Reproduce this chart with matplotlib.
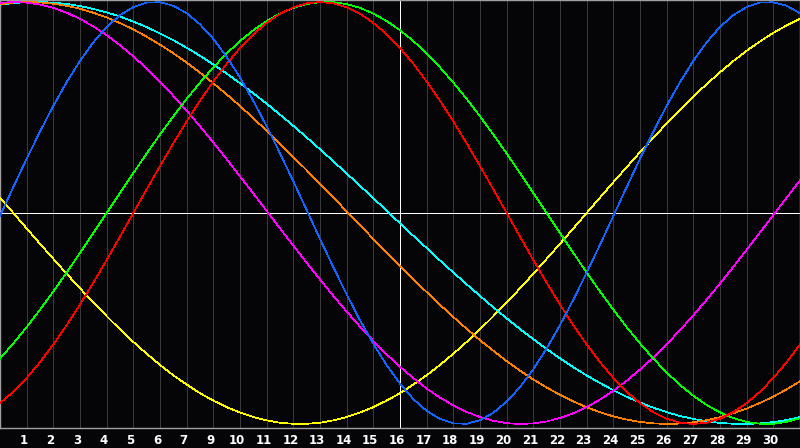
import numpy as np
import matplotlib
matplotlib.use("Agg")
import matplotlib.pyplot as plt
from matplotlib.transforms import ScaledTranslation

# day positions sampled every half day across the 30-day window
days = np.arange(0, 61) * 0.5

# tick positions and their date labels (note: 8 is absent in the original)
tick_pos = list(range(1, 30))
tick_labels = ["1", "2", "3", "4", "5", "6", "7", "9", "10", "11", "12", "13", "14",
               "15", "16", "17", "18", "19", "20", "21", "22", "23", "24", "25",
               "26", "27", "28", "29", "30"]

# cycle values (x1000)
blue = [-14, 123, 257, 386, 508, 620, 721, 809, 882, 938, 976, 997, 999, 982, 947, 894,
        825, 740, 642, 531, 411, 283, 150, 14, -123, -257, -386, -508, -620, -721, -809, -882,
        -938, -976, -997, -999, -982, -947, -894, -825, -740, -642, -531, -411, -283, -150, -14, 123,
        257, 386, 508, 620, 721, 809, 882, 938, 976, 997, 999, 982, 947]
red = [-901, -847, -782, -707, -623, -532, -434, -330, -223, -112, 0, 112, 223, 330, 434, 532,
       623, 707, 782, 847, 901, 944, 975, 994, 1000, 994, 975, 944, 901, 847, 782, 707,
       623, 532, 434, 330, 223, 112, 0, -112, -223, -330, -434, -532, -623, -707, -782, -847,
       -901, -944, -975, -994, -1000, -994, -975, -944, -901, -847, -782, -707, -623]
green = [-690, -618, -541, -458, -372, -282, -189, -95, 0, 95, 189, 282, 372, 458, 541, 618,
         690, 756, 815, 866, 910, 945, 972, 990, 999, 999, 990, 972, 945, 910, 866, 815,
         756, 690, 618, 541, 458, 372, 282, 189, 95, 0, -95, -189, -282, -372, -458, -541,
         -618, -690, -756, -815, -866, -910, -945, -972, -990, -999, -999, -990, -972]
yellow = [73, 0, -73, -146, -217, -288, -357, -424, -489, -552, -611, -667, -720, -769, -813, -854,
          -889, -920, -946, -967, -983, -994, -999, -999, -994, -983, -967, -946, -920, -889, -854, -813,
          -769, -720, -667, -611, -552, -489, -424, -357, -288, -217, -146, -73, 0, 73, 146, 217,
          288, 357, 424, 489, 552, 611, 667, 720, 769, 813, 854, 889, 920]
magenta = [996, 1000, 997, 988, 972, 949, 920, 884, 843, 795, 742, 685, 622, 555, 485, 411,
           334, 255, 174, 92, 10, -73, -155, -236, -315, -393, -467, -539, -606, -670, -729, -783,
           -832, -875, -912, -943, -967, -985, -996, -1000, -997, -988, -972, -949, -920, -884, -843, -795,
           -742, -685, -622, -555, -485, -411, -334, -255, -174, -92, -10, 73, 155]
orange = [990, 997, 1000, 998, 992, 982, 968, 949, 927, 900, 870, 836, 798, 757, 713, 665,
          615, 562, 507, 449, 390, 329, 266, 203, 138, 73, 8, -58, -123, -187, -251, -314,
          -375, -435, -493, -549, -603, -653, -702, -747, -789, -827, -862, -893, -921, -944, -964, -979,
          -990, -997, -1000, -998, -992, -982, -968, -949, -927, -900, -870, -836, -798]
cyan = [987, 995, 999, 1000, 997, 991, 981, 967, 951, 931, 907, 881, 851, 819, 783, 745,
        704, 661, 615, 567, 518, 466, 413, 358, 302, 245, 187, 129, 70, 11, -49, -108,
        -166, -225, -282, -338, -393, -447, -499, -550, -598, -645, -689, -731, -770, -806, -840, -871,
        -898, -923, -944, -962, -976, -987, -995, -999, -1000, -997, -991, -981, -967]

series = [
    (yellow, "#ffff00"),
    (cyan, "#00ffff"),
    (orange, "#ff8000"),
    (magenta, "#ff00ff"),
    (green, "#00ff00"),
    (red, "#ff0000"),
    (blue, "#1464ff"),
]

today_pos = 15

bg = "#050508"
W, H = 800, 448
fig = plt.figure(figsize=(W / 100, H / 100), dpi=100)
fig.patch.set_facecolor(bg)
ax = fig.add_axes([0, 20 / H, 1, 428 / H])
ax.set_facecolor(bg)

ax.set_xlim(0, 30)
ax.set_ylim(-(428 - 213) / 211, 213 / 211)

for p in tick_pos:
    ax.axvline(p, color="#3a3a3a", lw=0.72, zorder=1, antialiased=False)

ax.axhline(0, color="#ffffff", lw=0.72, zorder=2, antialiased=False)
ax.axvline(today_pos, color="#ffffff", lw=0.72, zorder=2, antialiased=False)

for vals, col in series:
    ax.plot(days, np.array(vals) / 1000.0, color=col, lw=0.5, zorder=3, antialiased=False)

for s in ax.spines.values():
    s.set_color("#a0a0a0")
    s.set_linewidth(1.0)

ax.set_xticks(tick_pos)
ax.set_xticklabels(tick_labels)
ax.tick_params(axis="x", length=0, pad=4.5, colors="#ffffff", labelsize=8.5)
shift = ScaledTranslation(-0.03, 0, fig.dpi_scale_trans)
for lab in ax.get_xticklabels():
    lab.set_fontweight("bold")
    lab.set_transform(lab.get_transform() + shift)
ax.set_yticks([])

fig.savefig("out.png", dpi=100, facecolor=bg)
